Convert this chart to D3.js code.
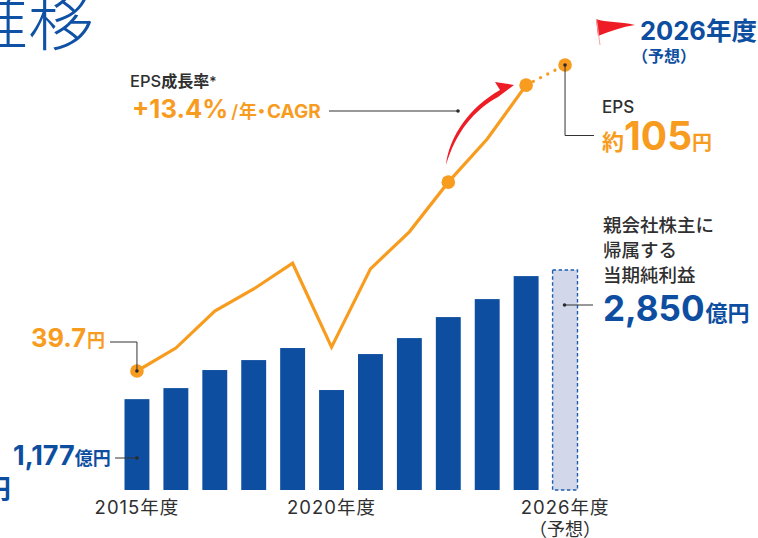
<!DOCTYPE html>
<html lang="ja"><head><meta charset="utf-8">
<script src="https://cdn.jsdelivr.net/npm/d3@7/dist/d3.min.js"></script>
<style>
html,body{margin:0;padding:0;background:#fff;overflow:hidden}
svg{display:block}
text{font-family:"Inter","Noto Sans CJK JP",sans-serif}
</style></head><body>
<script>
const years = ["2015","2016","2017","2018","2019","2020","2021","2022","2023","2024","2025","2026"];
const profit = [1177,1320,1554,1683,1839,1295,1761,1968,2240,2473,2771,2850];
const eps = [39.7,44.6,52.5,57.2,62.7,44.8,61.5,69.4,80.0,89.2,100.7,105];
const markedYears = ["2015","2023","2025","2026"];
const tickYears = ["2015","2020","2026"];

const BLUE="#0d4ea0", ORANGE="#f89c1f", INK="#2f2f2f", RED="#ee1c25";
const W=758,H=538;
const svg=d3.select("body").append("svg").attr("width",W).attr("height",H);

const x=d3.scaleBand().domain(years).range([117.5,584.5]).paddingInner(0.36).paddingOuter(0.18);
const yBar=d3.scaleLinear().domain([0,2850]).range([490,270]);
const yEps=d3.scaleLinear().domain([39.7,105]).range([371,65]);
const cx=d=>x(d)+x.bandwidth()/2;

// bars
svg.selectAll("rect.bar").data(years.slice(0,-1)).join("rect").attr("class","bar")
  .attr("x",d=>x(d)).attr("width",x.bandwidth())
  .attr("y",d=>yBar(profit[years.indexOf(d)]))
  .attr("height",d=>490-yBar(profit[years.indexOf(d)]))
  .attr("fill",BLUE);
svg.append("rect").attr("x",x("2026")).attr("width",x.bandwidth())
  .attr("y",yBar(2850)).attr("height",490-yBar(2850))
  .attr("fill","#d3d7ea").attr("stroke","#1c5cb0").attr("stroke-width",1.4).attr("stroke-dasharray","3.5 2.5");

// EPS line
const pts=years.map((d,i)=>[cx(d),yEps(eps[i])]);
const line=d3.line();
svg.append("path").attr("d",line(pts.slice(0,-1))).attr("fill","none")
  .attr("stroke",ORANGE).attr("stroke-width",3.2).attr("stroke-linejoin","miter");
svg.append("path").attr("d",line(pts.slice(-2))).attr("fill","none")
  .attr("stroke",ORANGE).attr("stroke-width",3.2).attr("stroke-linecap","round").attr("stroke-dasharray","0.1 8");
svg.selectAll("circle.m").data(markedYears).join("circle").attr("class","m")
  .attr("cx",cx).attr("cy",d=>yEps(eps[years.indexOf(d)])).attr("r",6.8).attr("fill",ORANGE);

// red growth arrow
svg.append("path").attr("fill",RED)
  .attr("d","M446,165 C449,136 470,107 500,90 L495,82 L514,85 L498,97 C474,110 456,132 446,165 Z");

// flag
svg.append("path").attr("fill",RED).attr("d","M596,19 C606,23 620,21 635,25 C622,27 610,31 598,36 Z");
svg.append("path").attr("fill","#f6a3a6").attr("d","M596,19 L597,19 L600.5,45 L599.5,45 Z");

// leader lines
const leader=(d)=>svg.append("path").attr("d",d).attr("fill","none").attr("stroke","#333").attr("stroke-width",1);
const dot=(a,b)=>svg.append("circle").attr("cx",a).attr("cy",b).attr("r",1.8).attr("fill","#2a2a2a");
const x0=cx("2015"), x1=cx("2026");
leader(`M110,342H${x0}V${yEps(39.7)}`); dot(x0,yEps(39.7));
leader(`M115,458H${x0}`); dot(x0,458);
leader(`M329,111H458`); dot(458,111);
leader(`M${x1},${yEps(105)}V135.5H594`); dot(x1,yEps(105));
leader(`M${x1},305H593`); dot(x1-0.5,305);

// helper for mixed text
function label(xp,yp,parts,fill,anchor){
  const t=svg.append("text").attr("x",xp).attr("y",yp).attr("fill",fill).attr("text-anchor",anchor||"start");
  parts.forEach(p=>t.append("tspan").attr("font-size",p[1]).attr("font-weight",p[2]||700)
     .attr("dx",p[3]||0).text(p[0]));
  return t;
}

// clipped title
label(94,44.5,[["推移",66,300]],"#0f52a5","end");
label(-16,499,[["円",27,700]],BLUE);

label(130,87,[["EPS",16.5,500],["成長率",16,700],["*",14,500]],INK);
const cagr=label(132,118,[["+13.4%",25.6,700],["/",18,600,3],["年・",18,700,1],["CAGR",19,700,1]],ORANGE);
cagr.style("font-feature-settings",'"palt"');

label(640,40,[["2026年度",25.5,700]],BLUE);
label(632,62,[["（予想）",16,700]],BLUE);

label(602,113,[["EPS",17,500]],INK);
label(602,150,[["約",22,700],["105",39,700],["円",20,700]],ORANGE);

label(31,347,[["39.7",25.5,700],["円",18,700,1]],ORANGE);
label(13,465,[["1,177",27,700],["億円",18,700]],BLUE);

label(603,232,[["親会社株主に",18.5,500]],INK);
label(603,257,[["帰属する",18.5,500]],INK);
label(603,282,[["当期純利益",18.5,500]],INK);
label(603,321,[["2,850",35,700],["億円",22,700,1]],BLUE);

// x axis
const axis=d3.axisBottom(x).tickValues(tickYears).tickSize(0).tickPadding(0).tickFormat(d=>d+"年度");
const gx=svg.append("g").attr("transform","translate(0,501)").call(axis);
gx.select(".domain").remove();
gx.selectAll("text").attr("font-size",18.5).attr("fill",INK).attr("font-weight",400).attr("letter-spacing",1).style("font-family",'"Inter","Noto Sans CJK JP",sans-serif');
label(x1,536,[["（予想）",18,400]],INK,"middle");
</script>
</body></html>
